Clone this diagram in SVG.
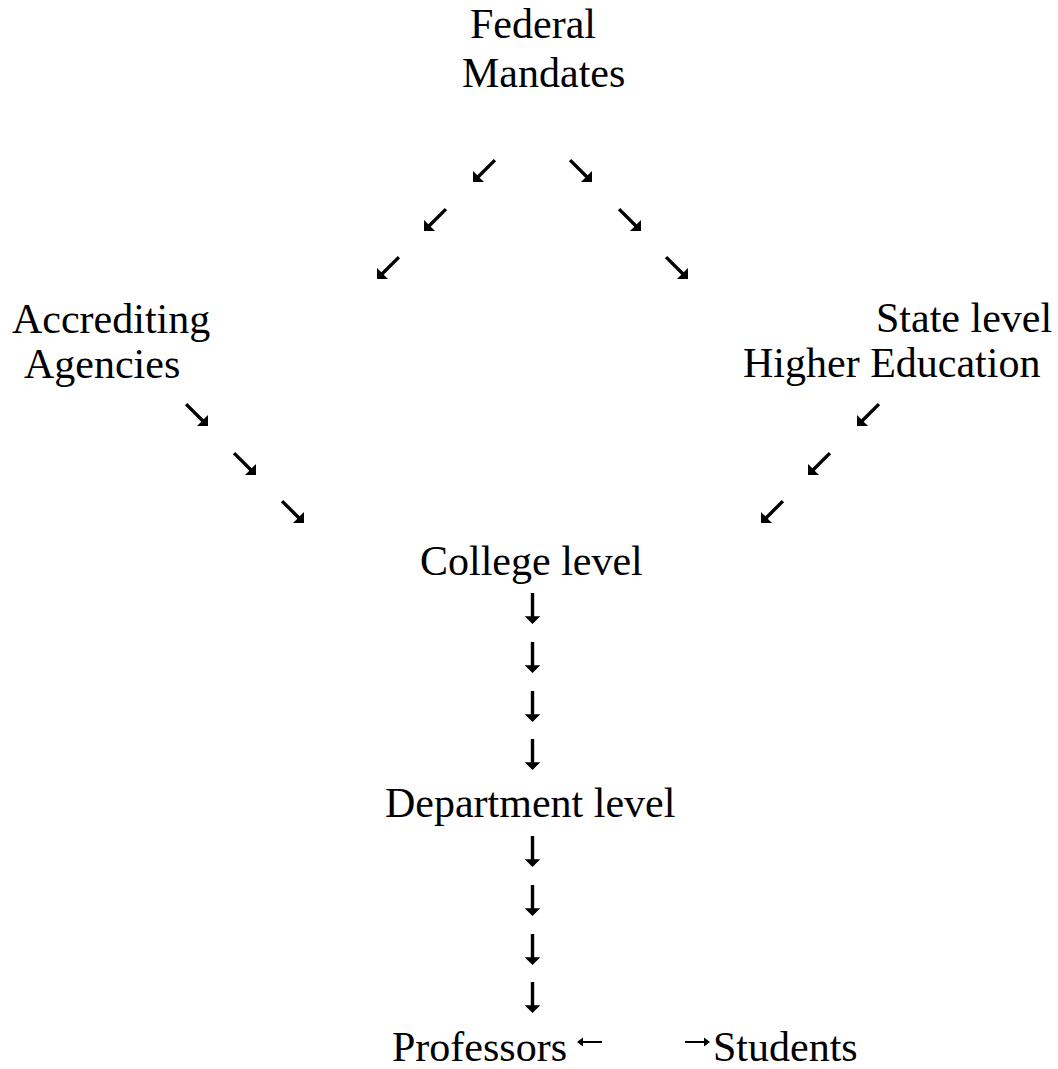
<svg xmlns="http://www.w3.org/2000/svg" width="1058" height="1069" viewBox="0 0 1058 1069">
  <style>
    .lbl { font-family: "Liberation Serif", "Times New Roman", serif; font-size: 42px; fill: #000; }
  </style>
  <defs>
    <!-- downward arrow, tip at origin: thick shaft with right-angled head -->
    <path id="arr" d="M-1.7,-31 H1.7 V-7.8 H7.8 L0,0 L-7.8,-7.8 H-1.7 Z" fill="#000"/>
    <!-- small arrow used beside the bottom labels -->
    <path id="arrSm" d="M-1.1,-25 H1.1 V-6 H4.5 L0,0 L-4.5,-6 H-1.1 Z" fill="#000"/>
  </defs>
  <rect width="1058" height="1069" fill="#fff"/>

  <g id="federal">
    <text class="lbl" x="470" y="38">Federal</text>
    <text class="lbl" x="462" y="87">Mandates</text>
  </g>
  <g id="accrediting">
    <text class="lbl" x="12" y="333">Accrediting</text>
    <text class="lbl" x="24" y="378">Agencies</text>
  </g>
  <g id="state">
    <text class="lbl" x="876" y="332">State level</text>
    <text class="lbl" x="743" y="377">Higher Education</text>
  </g>
  <g id="college">
    <text class="lbl" x="420" y="575">College level</text>
  </g>
  <g id="department">
    <text class="lbl" x="385" y="817">Department level</text>
  </g>
  <g id="professors">
    <text class="lbl" x="392" y="1061">Professors</text>
  </g>
  <g id="students">
    <text class="lbl" x="713" y="1061">Students</text>
  </g>

  <g id="connectors">
    <!-- Federal -> Accrediting -->
    <use href="#arr" transform="translate(473,182) rotate(45)"/>
    <use href="#arr" transform="translate(424,231) rotate(45)"/>
    <use href="#arr" transform="translate(377,279) rotate(45)"/>
    <!-- Federal -> State -->
    <use href="#arr" transform="translate(592,182) rotate(-45)"/>
    <use href="#arr" transform="translate(641,231) rotate(-45)"/>
    <use href="#arr" transform="translate(688,279) rotate(-45)"/>
    <!-- Accrediting -> College -->
    <use href="#arr" transform="translate(208,426) rotate(-45)"/>
    <use href="#arr" transform="translate(256,475) rotate(-45)"/>
    <use href="#arr" transform="translate(304,523) rotate(-45)"/>
    <!-- State -> College -->
    <use href="#arr" transform="translate(857,426) rotate(45)"/>
    <use href="#arr" transform="translate(808,475) rotate(45)"/>
    <use href="#arr" transform="translate(761,523) rotate(45)"/>
    <!-- College -> Department -->
    <use href="#arr" transform="translate(532.5,624)"/>
    <use href="#arr" transform="translate(532.5,673)"/>
    <use href="#arr" transform="translate(532.5,722)"/>
    <use href="#arr" transform="translate(532.5,770)"/>
    <!-- Department -> Professors / Students -->
    <use href="#arr" transform="translate(532.5,867)"/>
    <use href="#arr" transform="translate(532.5,916)"/>
    <use href="#arr" transform="translate(532.5,965)"/>
    <use href="#arr" transform="translate(532.5,1013)"/>
    <use href="#arrSm" transform="translate(577,1042) rotate(90)"/>
    <use href="#arrSm" transform="translate(710,1042) rotate(-90)"/>
  </g>
</svg>
